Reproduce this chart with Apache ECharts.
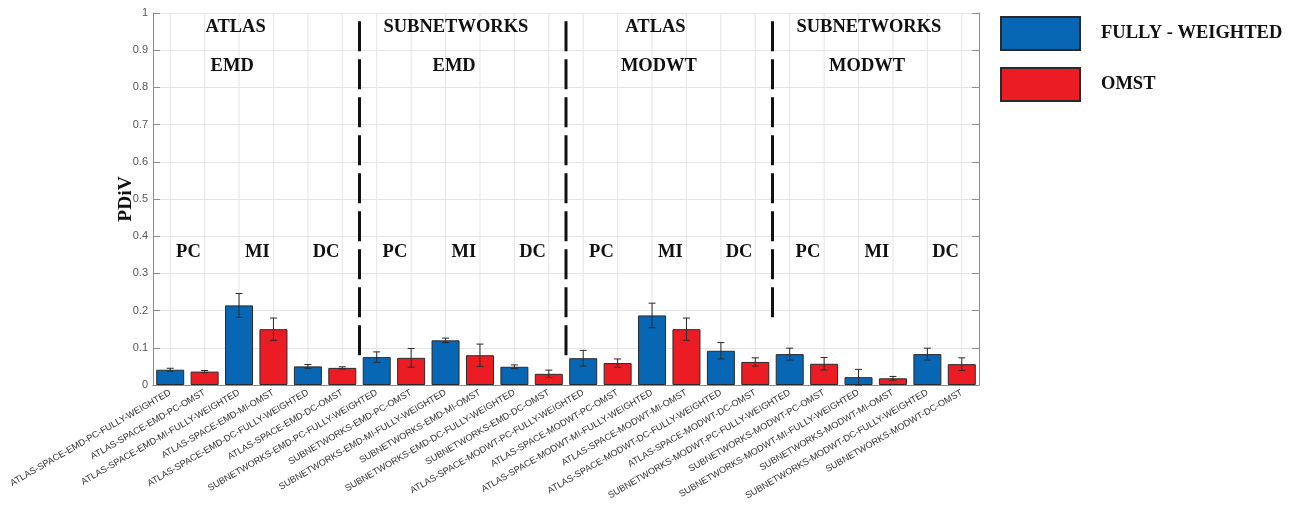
<!DOCTYPE html>
<html>
<head>
<meta charset="utf-8">
<script src="https://cdn.jsdelivr.net/npm/echarts@6/dist/echarts.min.js"></script>
<style>
  html, body { margin: 0; padding: 0; background: #ffffff; }
  #chart { width: 1298px; height: 509px; }
</style>
</head>
<body>
<div id="chart"></div>
<script>
// Condition names, one per bar, in plotting order
const categories = [
  'ATLAS-SPACE-EMD-PC-FULLY-WEIGHTED', 'ATLAS-SPACE-EMD-PC-OMST',
  'ATLAS-SPACE-EMD-MI-FULLY-WEIGHTED', 'ATLAS-SPACE-EMD-MI-OMST',
  'ATLAS-SPACE-EMD-DC-FULLY-WEIGHTED', 'ATLAS-SPACE-EMD-DC-OMST',
  'SUBNETWORKS-EMD-PC-FULLY-WEIGHTED', 'SUBNETWORKS-EMD-PC-OMST',
  'SUBNETWORKS-EMD-MI-FULLY-WEIGHTED', 'SUBNETWORKS-EMD-MI-OMST',
  'SUBNETWORKS-EMD-DC-FULLY-WEIGHTED', 'SUBNETWORKS-EMD-DC-OMST',
  'ATLAS-SPACE-MODWT-PC-FULLY-WEIGHTED', 'ATLAS-SPACE-MODWT-PC-OMST',
  'ATLAS-SPACE-MODWT-MI-FULLY-WEIGHTED', 'ATLAS-SPACE-MODWT-MI-OMST',
  'ATLAS-SPACE-MODWT-DC-FULLY-WEIGHTED', 'ATLAS-SPACE-MODWT-DC-OMST',
  'SUBNETWORKS-MODWT-PC-FULLY-WEIGHTED', 'SUBNETWORKS-MODWT-PC-OMST',
  'SUBNETWORKS-MODWT-MI-FULLY-WEIGHTED', 'SUBNETWORKS-MODWT-MI-OMST',
  'SUBNETWORKS-MODWT-DC-FULLY-WEIGHTED', 'SUBNETWORKS-MODWT-DC-OMST'
];

// PDiV means and error half-widths (FULLY-WEIGHTED / OMST pairs)
const fullyWeighted    = [0.041, 0.214, 0.050, 0.075, 0.120, 0.049, 0.072, 0.187, 0.092, 0.083, 0.021, 0.083];
const fullyWeightedErr = [0.004, 0.032, 0.005, 0.014, 0.006, 0.005, 0.021, 0.033, 0.022, 0.016, 0.021, 0.016];
const omst             = [0.036, 0.150, 0.046, 0.073, 0.080, 0.030, 0.059, 0.150, 0.062, 0.057, 0.018, 0.056];
const omstErr          = [0.003, 0.030, 0.003, 0.025, 0.030, 0.010, 0.011, 0.030, 0.011, 0.017, 0.005, 0.017];

// Panel headings and per-pair measure names
const groupTitles  = ['ATLAS', 'SUBNETWORKS', 'ATLAS', 'SUBNETWORKS'];
const groupMethods = ['EMD', 'EMD', 'MODWT', 'MODWT'];
const measures     = ['PC', 'MI', 'DC'];
const seriesNames  = ['FULLY - WEIGHTED', 'OMST'];
const yTicks       = [0, 0.1, 0.2, 0.3, 0.4, 0.5, 0.6, 0.7, 0.8, 0.9, 1];

const BLUE = '#0767b4';
const RED = '#ec1c24';
const AXIS = '#8c8c8c';
const GRID = '#e4e4e4';
const SERIF = '"Liberation Serif", "Times New Roman", serif';
const SANS = '"Liberation Sans", Arial, sans-serif';

// Interleave pairs into full-length series (gaps where the other type sits)
const fwSeries = [], omSeries = [], errData = [];
fullyWeighted.forEach((v, i) => {
  fwSeries.push(v, '-');
  omSeries.push('-', omst[i]);
  errData.push([2 * i, v - fullyWeightedErr[i], v + fullyWeightedErr[i]]);
  errData.push([2 * i + 1, omst[i] - omstErr[i], omst[i] + omstErr[i]]);
});

// Text annotations placed on the hidden 0..24 value axis
const titleX  = [2.4, 8.8, 14.6, 20.8];
const methodX = [2.3, 8.75, 14.7, 20.75];
const annot = [];
groupTitles.forEach((t, g) => {
  annot.push([titleX[g], 0.961, t]);
  annot.push([methodX[g], 0.858, groupMethods[g]]);
  measures.forEach((m, k) => annot.push([6 * g + 2 * k + 1.03, 0.358, m]));
});

// Dashed separators between the four panels: [x, top, bottom]
const dividers = [[6, 0.978, 0.075], [12, 0.978, 0.070], [18, 0.978, 0.180]];

const chart = echarts.init(document.getElementById('chart'), null, { renderer: 'canvas' });

const option = {
  backgroundColor: '#ffffff',
  animation: false,
  grid: { left: 153, top: 13, width: 826, height: 372, containLabel: false },
  legend: {
    orient: 'vertical',
    left: 1000,
    top: 16,
    padding: 0,
    itemWidth: 79,
    itemHeight: 33,
    itemGap: 16,
    icon: 'rect',
    data: seriesNames,
    textStyle: {
      fontFamily: SERIF, fontWeight: 'bold', fontSize: 18.5, color: '#111111',
      padding: [0, 0, 4, 16]
    }
  },
  xAxis: [
    {
      type: 'category',
      data: categories,
      position: 'bottom',
      z: 5,
      axisLine: { lineStyle: { color: AXIS, width: 1 } },
      axisTick: { inside: true, length: 8, interval: 0, alignWithLabel: true, lineStyle: { color: '#555555' } },
      axisLabel: {
        interval: 0, rotate: 30, margin: 7,
        fontFamily: SANS, fontSize: 9.2, color: '#333333'
      },
      splitLine: { show: false }
    },
    {
      type: 'category',
      data: categories,
      position: 'top',
      axisLine: { lineStyle: { color: AXIS, width: 1 } },
      axisTick: { inside: true, length: 7, interval: 0, alignWithLabel: true, lineStyle: { color: AXIS } },
      axisLabel: { show: false, interval: 0 },
      splitLine: { show: false }
    },
    {
      type: 'value', min: 0, max: 24, show: false
    }
  ],
  yAxis: [
    {
      type: 'value', min: 0, max: 1, interval: 0.1,
      position: 'left',
      name: 'PDiV',
      nameLocation: 'middle',
      nameGap: 17,
      nameMoveOverlap: false,
      nameRotate: 90,
      nameTextStyle: { fontFamily: SERIF, fontWeight: 'bold', fontSize: 19.5, color: '#111111' },
      axisLine: { show: true, lineStyle: { color: AXIS, width: 1 } },
      axisTick: { show: true, inside: true, length: 7, lineStyle: { color: AXIS } },
      axisLabel: {
        margin: 5, fontFamily: SANS, fontSize: 11, color: '#555555',
        formatter: v => String(yTicks.find(t => Math.abs(t - v) < 1e-9) ?? v)
      },
      splitLine: { show: true, lineStyle: { color: GRID, width: 1 } }
    },
    {
      type: 'value', min: 0, max: 1, interval: 0.1,
      position: 'right',
      axisLine: { show: true, lineStyle: { color: AXIS, width: 1 } },
      axisTick: { show: true, inside: true, length: 7, lineStyle: { color: AXIS } },
      axisLabel: { show: false },
      splitLine: { show: false }
    }
  ],
  series: [
    {
      // vertical grid lines through every category centre
      name: 'vgrid',
      type: 'custom',
      xAxisIndex: 0, yAxisIndex: 0,
      data: categories.map((c, i) => [i]),
      silent: true,
      z: 1,
      renderItem: (params, api) => {
        const top = api.coord([api.value(0), 1]);
        const bot = api.coord([api.value(0), 0]);
        return {
          type: 'line',
          shape: { x1: top[0], y1: top[1], x2: bot[0], y2: bot[1] },
          style: { stroke: GRID, lineWidth: 1 }
        };
      }
    },
    {
      name: seriesNames[0],
      type: 'bar',
      xAxisIndex: 0, yAxisIndex: 0,
      data: fwSeries,
      barWidth: 28,
      barGap: '-100%',
      itemStyle: { color: BLUE, borderColor: '#2a2a2a', borderWidth: 1 },
      z: 2
    },
    {
      name: seriesNames[1],
      type: 'bar',
      xAxisIndex: 0, yAxisIndex: 0,
      data: omSeries,
      barWidth: 28,
      barGap: '-100%',
      itemStyle: { color: RED, borderColor: '#2a2a2a', borderWidth: 1 },
      z: 2
    },
    {
      name: 'error',
      type: 'custom',
      xAxisIndex: 0, yAxisIndex: 0,
      data: errData,
      z: 6,
      renderItem: (params, api) => {
        const lo = api.coord([api.value(0), api.value(1)]);
        const hi = api.coord([api.value(0), api.value(2)]);
        const cap = 3.5;
        const st = { stroke: '#2a2a2a', lineWidth: 1 };
        return {
          type: 'group',
          children: [
            { type: 'line', shape: { x1: lo[0], y1: lo[1], x2: hi[0], y2: hi[1] }, style: st },
            { type: 'line', shape: { x1: lo[0] - cap, y1: lo[1], x2: lo[0] + cap, y2: lo[1] }, style: st },
            { type: 'line', shape: { x1: hi[0] - cap, y1: hi[1], x2: hi[0] + cap, y2: hi[1] }, style: st }
          ]
        };
      }
    },
    {
      name: 'dividers',
      type: 'custom',
      xAxisIndex: 2, yAxisIndex: 0,
      data: dividers,
      z: 4,
      renderItem: (params, api) => {
        const top = api.coord([api.value(0), api.value(1)]);
        const bot = api.coord([api.value(0), api.value(2)]);
        return {
          type: 'line',
          shape: { x1: top[0], y1: top[1], x2: bot[0], y2: bot[1] },
          style: { stroke: '#111111', lineWidth: 3, lineDash: [30, 8] }
        };
      }
    },
    {
      name: 'annotations',
      type: 'scatter',
      xAxisIndex: 2, yAxisIndex: 0,
      data: annot,
      symbolSize: 0,
      silent: true,
      z: 7,
      itemStyle: { opacity: 1 },
      label: {
        show: true,
        position: 'inside',
        formatter: p => p.data[2],
        fontFamily: SERIF,
        fontWeight: 'bold',
        fontSize: 18.5,
        color: '#111111'
      }
    }
  ]
};

chart.setOption(option);
</script>
</body>
</html>
